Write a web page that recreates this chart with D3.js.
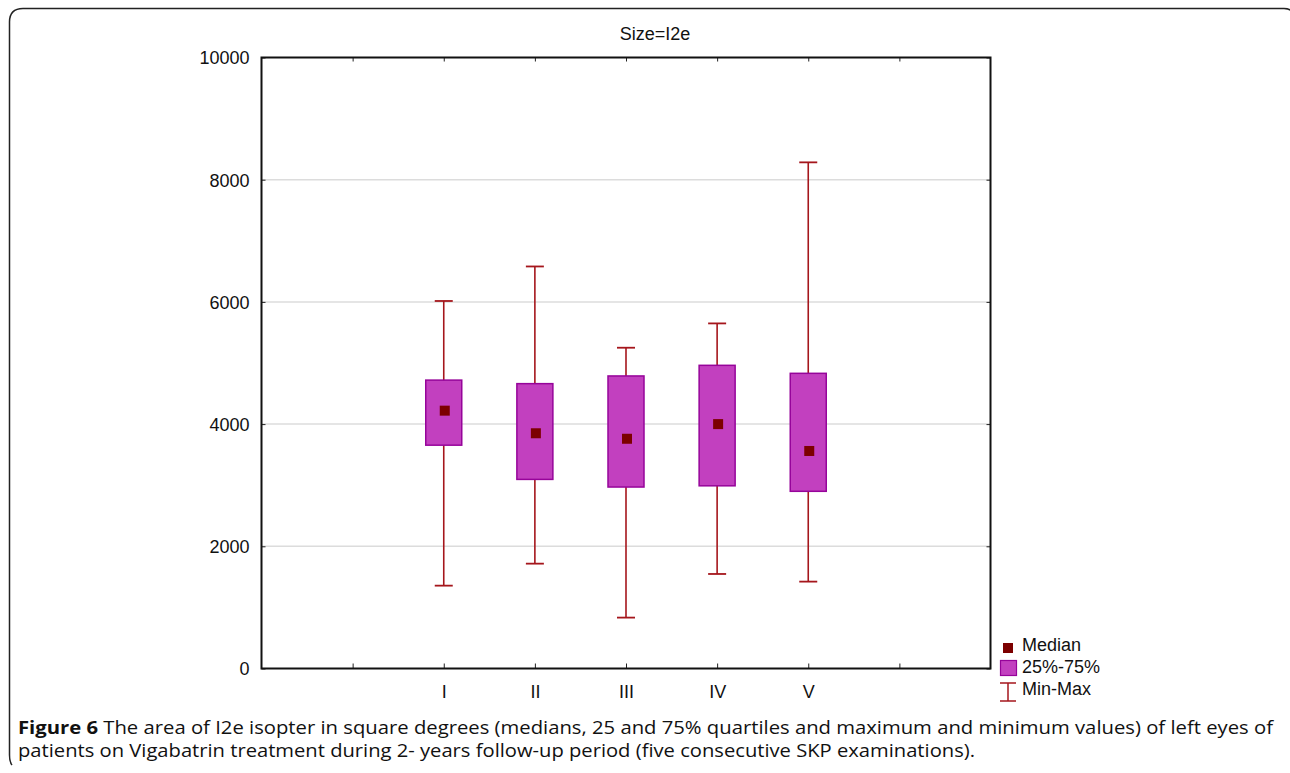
<!DOCTYPE html>
<html><head><meta charset="utf-8">
<script src="https://cdn.jsdelivr.net/npm/d3@7"></script>
<style>body{margin:0;background:#fff;}svg{display:block;}</style>
</head><body>
<svg id="c" width="1290" height="773"></svg>
<script>
const categories = ["I","II","III","IV","V"];
const medians = [4220, 3850, 3760, 4000, 3560];
const q1 = [3655, 3095, 2970, 2990, 2900];
const q3 = [4720, 4662, 4788, 4962, 4831];
const mins = [1356, 1716, 833, 1547, 1422];
const maxs = [6015, 6580, 5250, 5648, 8284];
const yTicks = [0, 2000, 4000, 6000, 8000, 10000];
const title = "Size=I2e";
const legendLabels = ["Median", "25%-75%", "Min-Max"];

const svg = d3.select("#c");
const L = 261.5, R = 990.5, T = 57.5, B = 668.5;
const font = "'Liberation Sans', Arial, sans-serif";
const fs = 18;

// outer frame
svg.append("path").attr("d", `M12,765 Q9.5,762 9.5,755 L9.5,22 Q9.5,8.5 23,8.5 L1284,8.5 Q1290,8.5 1292,12`)
  .attr("fill","none").attr("stroke","#222").attr("stroke-width",1.5);

const x = d3.scaleLinear().domain([0, 8]).range([L, R]);
const catPos = i => i + 2;
const y = d3.scaleLinear().domain([0, 10000]).range([B, T]);

// gridlines
svg.append("g").selectAll("line").data(yTicks.filter(v => v > 0 && v < 10000)).join("line")
  .attr("x1", L).attr("x2", R).attr("y1", d => y(d)).attr("y2", d => y(d))
  .attr("stroke", "#dcdcdc").attr("stroke-width", 1.5);

// y axis
const yAxis = svg.append("g").attr("transform", `translate(${L},0)`)
  .call(d3.axisLeft(y).tickValues(yTicks).tickSize(-4).tickPadding(12).tickFormat(d3.format("d")));
yAxis.select(".domain").remove();
yAxis.selectAll("line").attr("stroke", "#222");
yAxis.selectAll("text").attr("font-family", font).attr("font-size", fs).attr("fill", "#111").attr("dy", "0.35em");

// right ticks
svg.append("g").attr("transform", `translate(${R},0)`)
  .call(d3.axisRight(y).tickValues(yTicks).tickSize(-4).tickFormat(""))
  .call(g => g.select(".domain").remove())
  .selectAll("line").attr("stroke", "#222");

// x axis
const xAxis = svg.append("g").attr("transform", `translate(0,${B})`)
  .call(d3.axisBottom(x).tickValues(d3.range(1, 8)).tickSize(-5).tickPadding(15)
    .tickFormat(d => (d >= 2 && d <= 6) ? categories[d - 2] : ""));
xAxis.select(".domain").remove();
xAxis.selectAll("line").attr("stroke", "#222");
xAxis.selectAll("text").attr("font-family", font).attr("font-size", fs).attr("fill", "#111")
  .attr("y", 29).attr("dy", 0);

svg.append("g").attr("transform", `translate(0,${T})`)
  .call(d3.axisTop(x).tickValues(d3.range(1, 8)).tickSize(-4).tickFormat(""))
  .call(g => g.select(".domain").remove())
  .selectAll("line").attr("stroke", "#222");

// frame of plot
svg.append("rect").attr("x", L).attr("y", T).attr("width", R - L).attr("height", B - T)
  .attr("fill", "none").attr("stroke", "#111").attr("stroke-width", 2);

// title
svg.append("text").attr("x", 655).attr("y", 40).attr("text-anchor", "middle")
  .attr("font-family", font).attr("font-size", fs).attr("fill", "#111").text(title);

const whisk = "#a5161c", boxFill = "#c240bf", boxStroke = "#96049a", medCol = "#7c0000";
const bw = 36, cap = 18, ms = 10;
const g = svg.append("g");
categories.forEach((c, i) => {
  const cx = x(catPos(i));
  g.append("line").attr("x1", cx).attr("x2", cx).attr("y1", y(maxs[i])).attr("y2", y(mins[i]))
    .attr("stroke", whisk).attr("stroke-width", 1.6);
  [maxs[i], mins[i]].forEach(v => g.append("line").attr("x1", cx - cap / 2).attr("x2", cx + cap / 2)
    .attr("y1", y(v)).attr("y2", y(v)).attr("stroke", whisk).attr("stroke-width", 1.8));
  g.append("rect").attr("x", cx - bw / 2).attr("width", bw).attr("y", y(q3[i])).attr("height", y(q1[i]) - y(q3[i]))
    .attr("fill", boxFill).attr("stroke", boxStroke).attr("stroke-width", 1.5);
  g.append("rect").attr("x", cx - ms / 2 + 1).attr("width", ms).attr("y", y(medians[i]) - ms / 2).attr("height", ms)
    .attr("fill", medCol);
});

// legend
const lg = svg.append("g");
lg.append("rect").attr("x", 1003).attr("y", 643).attr("width", 10).attr("height", 10).attr("fill", medCol);
lg.append("rect").attr("x", 1000.5).attr("y", 660.5).attr("width", 16).attr("height", 15)
  .attr("fill", boxFill).attr("stroke", boxStroke).attr("stroke-width", 1.2);
lg.append("line").attr("x1", 1008).attr("x2", 1008).attr("y1", 683).attr("y2", 701).attr("stroke", whisk).attr("stroke-width", 1.5);
lg.append("line").attr("x1", 1000).attr("x2", 1016).attr("y1", 683).attr("y2", 683).attr("stroke", whisk).attr("stroke-width", 1.5);
lg.append("line").attr("x1", 1000).attr("x2", 1016).attr("y1", 701).attr("y2", 701).attr("stroke", whisk).attr("stroke-width", 1.5);
legendLabels.forEach((t, i) => lg.append("text").attr("x", 1022).attr("y", 651 + i * 22)
  .attr("font-family", font).attr("font-size", fs).attr("fill", "#111").text(t));

// caption
const capFont = "'Open Sans', 'Noto Sans', sans-serif";
const c1 = svg.append("text").attr("x", 18).attr("y", 734).attr("font-family", capFont).attr("font-size", 17.5).attr("fill", "#111")
  .attr("textLength", 1255).attr("lengthAdjust", "spacingAndGlyphs");
c1.append("tspan").attr("font-weight", "bold").text("Figure 6");
c1.append("tspan").text(" The area of I2e isopter in square degrees (medians, 25 and 75% quartiles and maximum and minimum values) of left eyes of");
svg.append("text").attr("x", 18).attr("y", 757).attr("font-family", capFont).attr("font-size", 17.5).attr("fill", "#111")
  .attr("textLength", 957).attr("lengthAdjust", "spacingAndGlyphs")
  .text("patients on Vigabatrin treatment during 2- years follow-up period (five consecutive SKP examinations).");
</script>
</body></html>
